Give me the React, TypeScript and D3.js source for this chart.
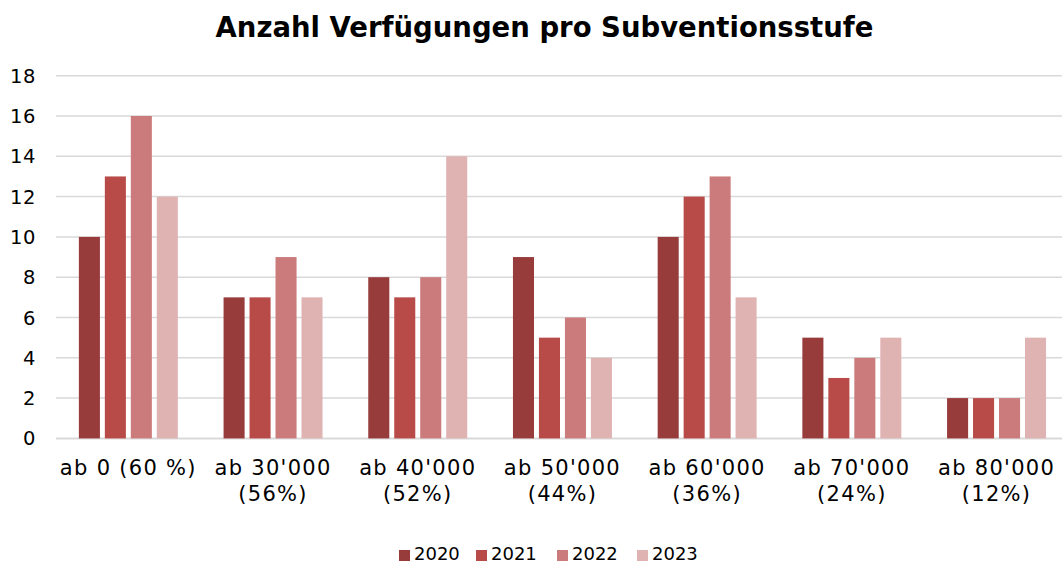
import React from 'react'
import * as d3 from 'd3'

const categories = ["ab 0 (60 %)", "ab 30'000\n(56%)", "ab 40'000\n(52%)", "ab 50'000\n(44%)", "ab 60'000\n(36%)", "ab 70'000\n(24%)", "ab 80'000\n(12%)"]
const seriesNames = ['2020', '2021', '2022', '2023']
const values2020 = [10, 7, 8, 9, 10, 5, 2]
const values2021 = [13, 7, 7, 5, 12, 3, 2]
const values2022 = [16, 9, 8, 6, 13, 4, 2]
const values2023 = [12, 7, 14, 4, 7, 5, 5]
const yTicks = [0, 2, 4, 6, 8, 10, 12, 14, 16, 18]

const colors = ['#973b3b', '#b84a48', '#cb7b7b', '#e0b3b3']

const WIDTH = 1062
const HEIGHT = 563
const font = 'Verdana, DejaVu Sans, sans-serif'

const App = () => {
    const series = [values2020, values2021, values2022, values2023]

    // x: categories
    const xScale = d3
        .scaleBand<string>()
        .domain(categories)
        .range([56, 56 + 7 * 144.7])
        .paddingInner(0.316)
        .paddingOuter(0.158)
    const groupWidth = xScale.bandwidth()

    const xSub = d3
        .scaleBand<string>()
        .domain(seriesNames)
        .range([0, groupWidth])
        .paddingInner(0.19)
        .paddingOuter(0)
    const barWidth = xSub.bandwidth()

    // y
    const yScale = d3.scaleLinear().domain([0, 18]).range([438.4, 75.7])

    const legendX = [399, 476, 557, 637]

    return (
        <svg width={WIDTH} height={HEIGHT} style={{ position: 'absolute', left: 0, top: 0, background: '#fff' }}>
            <text x={544.5} y={37} textAnchor="middle" fontFamily={font} fontWeight="bold" fontSize={27.5} fill="#000">
                Anzahl Verfügungen pro Subventionsstufe
            </text>

            {/* grid */}
            {yTicks.map(t => (
                <g key={t}>
                    <line x1={56} x2={WIDTH} y1={yScale(t)} y2={yScale(t)} stroke="#d9d9d9" strokeWidth={t === 0 ? 2 : 1.5} />
                    <text x={36} y={yScale(t) + 7} textAnchor="end" fontFamily={font} fontSize={19.5} letterSpacing={0.6} fill="#000">
                        {t}
                    </text>
                </g>
            ))}

            {/* bars */}
            {series.map((vals, si) => (
                <g key={si} fill={colors[si]}>
                    {vals.map((v, ci) => {
                        const x = (xScale(categories[ci]) as number) + (xSub(seriesNames[si]) as number)
                        const y = yScale(v)
                        return <rect key={ci} x={x} y={y} width={barWidth} height={yScale(0) - y} />
                    })}
                </g>
            ))}

            {/* x labels */}
            {categories.map(c => {
                const cx = (xScale(c) as number) + groupWidth / 2
                return (
                    <text key={c} x={cx} y={475} textAnchor="middle" fontFamily={font} fontSize={21} letterSpacing={1.3} fill="#000">
                        {c.split('\n').map((line, i) => (
                            <tspan key={i} x={cx} dy={i === 0 ? 0 : 26}>{line}</tspan>
                        ))}
                    </text>
                )
            })}

            {/* legend */}
            {seriesNames.map((s, i) => (
                <g key={s}>
                    <rect x={legendX[i]} y={550} width={11} height={11} fill={colors[i]} />
                    <text x={legendX[i] + 15} y={560} fontFamily={font} fontSize={18} fill="#000">
                        {s}
                    </text>
                </g>
            ))}
        </svg>
    )
}

export default App
